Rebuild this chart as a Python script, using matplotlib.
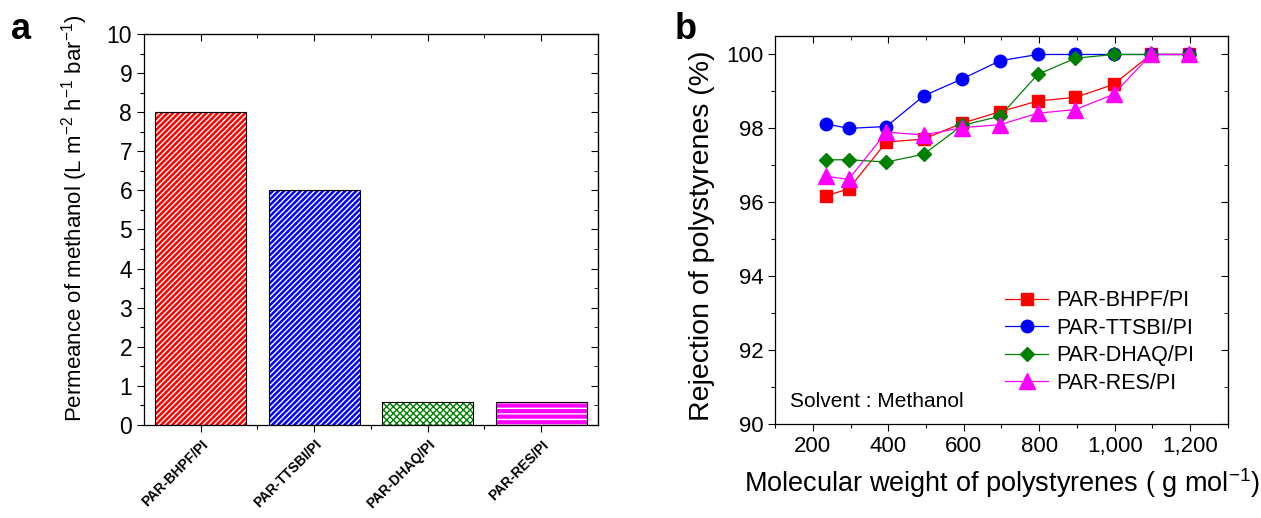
import matplotlib
matplotlib.use("Agg")
import matplotlib.pyplot as plt
from matplotlib.ticker import MultipleLocator, FixedLocator, FuncFormatter

plt.rcParams['font.family'] = ['Liberation Sans', 'DejaVu Sans']
plt.rcParams['mathtext.fontset'] = 'custom'
plt.rcParams['mathtext.rm'] = 'Liberation Sans'
plt.rcParams['mathtext.it'] = 'Liberation Sans'
plt.rcParams['hatch.linewidth'] = 1.0

# ---------------- data ----------------
membranes = ['PAR-BHPF/PI', 'PAR-TTSBI/PI', 'PAR-DHAQ/PI', 'PAR-RES/PI']
permeance = [8.0, 6.0, 0.6, 0.6]
bar_colors = ['#ff0000', '#0000ff', '#008000', '#ff00ff']

mw = [236, 295, 395, 494, 596, 696, 796, 896, 997, 1096, 1197]
rej_bhpf = [96.18, 96.36, 97.63, 97.71, 98.14, 98.45, 98.74, 98.84, 99.19, 100.0, 100.0]
rej_ttsbi = [98.12, 98.00, 98.05, 98.88, 99.34, 99.83, 100.0, 100.0, 100.0, 100.0, 100.0]
rej_dhaq = [97.15, 97.15, 97.09, 97.30, 98.08, 98.33, 99.46, 99.90, 100.0, 100.0, 100.0]
rej_res = [96.70, 96.62, 97.90, 97.82, 98.02, 98.10, 98.41, 98.51, 98.92, 100.0, 100.0]

fig = plt.figure(figsize=(12.61, 5.18), dpi=100)

# ---------------- panel a ----------------
ax1 = fig.add_axes([0.1142, 0.1795, 0.3600, 0.7549])
xpos = [1, 2, 3, 4]
hatch_face = ['#ff0000', '#0000ff', 'white', '#ff00ff']
hatch_col = ['white', 'white', '#008000', 'white']
hatches = ['//////', '//////', 'xxxxx', '---']
for x, v, fc, hc, h in zip(xpos, permeance, hatch_face, hatch_col, hatches):
    ax1.bar(x, v, width=0.8, color=fc, edgecolor=hc, hatch=h, linewidth=0, zorder=2)
ax1.bar(xpos, permeance, width=0.8, fill=False, edgecolor='black', linewidth=0.8, zorder=3)

ax1.set_xlim(0.5, 4.5)
ax1.set_ylim(0, 10)
ax1.xaxis.set_major_locator(FixedLocator(xpos))
ax1.xaxis.set_minor_locator(FixedLocator([1.5, 2.5, 3.5]))
ax1.set_xticklabels(membranes, rotation=45, ha='right', rotation_mode='anchor',
                    fontsize=10, fontweight='bold')
ax1.yaxis.set_major_locator(MultipleLocator(1))
ax1.yaxis.set_minor_locator(MultipleLocator(0.5))
ax1.tick_params(axis='both', which='major', direction='out', length=5, width=0.8, labelsize=16.5)
ax1.tick_params(axis='both', which='minor', direction='out', length=3, width=0.8)
ax1.tick_params(axis='x', which='major', labelsize=10, pad=4)
ax1.set_ylabel('Permeance of methanol (L m$^{\\mathrm{-2}}$ h$^{\\mathrm{-1}}$ bar$^{\\mathrm{-1}}$)',
               fontsize=16)
ax1.yaxis.set_label_coords(-0.12, 0.53)
for s in ax1.spines.values():
    s.set_linewidth(0.9)

sx = ax1.secondary_xaxis('top')
sx.xaxis.set_major_locator(FixedLocator(xpos))
sx.xaxis.set_minor_locator(FixedLocator([1.5, 2.5, 3.5]))
sx.tick_params(which='both', direction='in', length=5, labeltop=False)
sx.tick_params(which='minor', length=3)
sy = ax1.secondary_yaxis('right')
sy.yaxis.set_major_locator(MultipleLocator(1))
sy.yaxis.set_minor_locator(MultipleLocator(0.5))
sy.tick_params(which='both', direction='in', length=5, labelright=False)
sy.tick_params(which='minor', length=3)

fig.text(0.009, 0.925, 'a', fontsize=26, fontweight='bold')

# ---------------- panel b ----------------
ax2 = fig.add_axes([0.6146, 0.1815, 0.3592, 0.7490])
ax2.plot(mw, rej_bhpf, '-s', color='#ff0000', markersize=8, linewidth=0.9, label='PAR-BHPF/PI')
ax2.plot(mw, rej_ttsbi, '-o', color='#0000ff', markersize=9, linewidth=0.9, label='PAR-TTSBI/PI')
ax2.plot(mw, rej_dhaq, '-D', color='#008000', markersize=7.5, linewidth=0.9, label='PAR-DHAQ/PI')
ax2.plot(mw, rej_res, '-^', color='#ff00ff', markersize=11, linewidth=0.9, label='PAR-RES/PI')

ax2.set_xlim(100, 1300)
ax2.set_ylim(90, 100.5)
ax2.xaxis.set_major_locator(FixedLocator([200, 400, 600, 800, 1000, 1200]))
ax2.xaxis.set_minor_locator(FixedLocator([100, 300, 500, 700, 900, 1100, 1300]))
ax2.xaxis.set_major_formatter(FuncFormatter(lambda v, p: f'{int(v):,}'))
ax2.yaxis.set_major_locator(MultipleLocator(2))
ax2.yaxis.set_minor_locator(MultipleLocator(1))
ax2.tick_params(axis='both', which='major', direction='out', length=5, width=0.8, labelsize=16)
ax2.tick_params(axis='both', which='minor', direction='out', length=3, width=0.8)
ax2.set_xlabel('Molecular weight of polystyrenes ( g mol$^{\\mathrm{-1}}$)', fontsize=19.5, labelpad=7)
ax2.set_ylabel('Rejection of polystyrenes (%)', fontsize=20.5)
ax2.yaxis.set_label_coords(-0.133, 0.485)
for s in ax2.spines.values():
    s.set_linewidth(0.9)

sx2 = ax2.secondary_xaxis('top')
sx2.xaxis.set_major_locator(FixedLocator([200, 400, 600, 800, 1000, 1200]))
sx2.xaxis.set_minor_locator(FixedLocator([100, 300, 500, 700, 900, 1100, 1300]))
sx2.tick_params(which='both', direction='in', length=5, labeltop=False)
sx2.tick_params(which='minor', length=3)
sy2 = ax2.secondary_yaxis('right')
sy2.yaxis.set_major_locator(MultipleLocator(2))
sy2.yaxis.set_minor_locator(MultipleLocator(1))
sy2.tick_params(which='both', direction='in', length=5, labelright=False)
sy2.tick_params(which='minor', length=3)

ax2.legend(loc='lower right', bbox_to_anchor=(0.955, 0.045), frameon=False, fontsize=15.5,
           handlelength=2.0, handletextpad=0.4, labelspacing=0.3, borderaxespad=0.2)
ax2.text(0.033, 0.045, 'Solvent : Methanol', transform=ax2.transAxes, fontsize=15)

fig.text(0.535, 0.925, 'b', fontsize=26, fontweight='bold')

fig.savefig('out.png', dpi=100)
